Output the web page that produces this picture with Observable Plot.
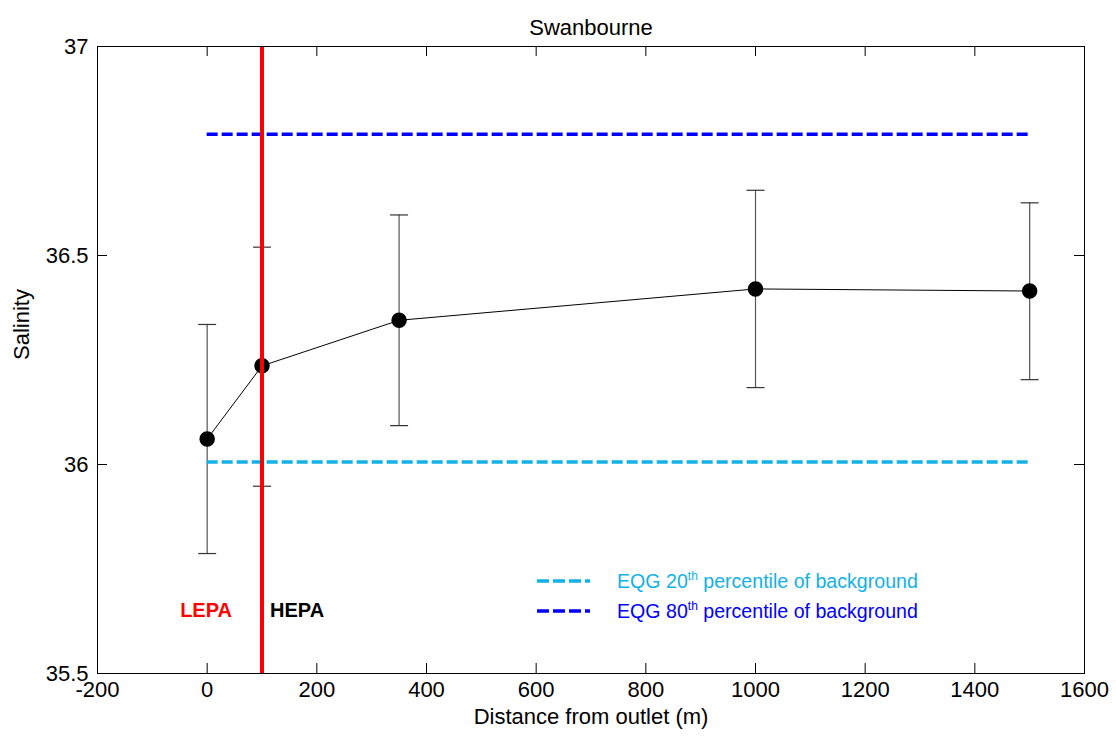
<!DOCTYPE html>
<html>
<head>
<meta charset="utf-8">
<script src="https://cdn.jsdelivr.net/npm/d3@7"></script>
<script src="https://cdn.jsdelivr.net/npm/@observablehq/plot@0.6"></script>
<style>
  html, body { margin: 0; padding: 0; background: white; }
  #wrap { position: relative; width: 1116px; height: 740px; font-family: "Liberation Sans", Arial, sans-serif; }
  #legend { position: absolute; left: 537px; top: 566px; font-size: 19.6px; line-height: 30px; }
  #legend .row { display: flex; align-items: center; height: 30px; }
  #legend svg { margin-right: 27px; }
  #legend sup { font-size: 12px; vertical-align: 8px; line-height: 0; }
</style>
</head>
<body>
<div id="wrap"></div>
<script>
// ---- data ----
const distance = [0, 100, 350, 1000, 1500];
const salinityMean = [36.061, 36.236, 36.345, 36.42, 36.415];
const salinityLow = [35.787, 35.948, 36.093, 36.184, 36.203];
const salinityHigh = [36.335, 36.52, 36.597, 36.656, 36.626];
const eqg20 = 36.006;
const eqg80 = 36.79;
const zoneBoundary = 100;
const xTicks = [-200, 0, 200, 400, 600, 800, 1000, 1200, 1400, 1600];
const yTicks = [35.5, 36, 36.5, 37];
const legendItems = [
  {label: "EQG 20", sup: "th", rest: " percentile of background", color: "#13B1E6"},
  {label: "EQG 80", sup: "th", rest: " percentile of background", color: "#0000FF"}
];

const rows = distance.map((d, i) => ({x: d, y: salinityMean[i], lo: salinityLow[i], hi: salinityHigh[i]}));

const W = 1116, H = 740, mL = 97, mR = 32, mT = 46, mB = 67;
const plotW = W - mL - mR, plotH = H - mT - mB;
const tickLen = 10;
const font = "Liberation Sans, Arial, sans-serif";

const capSymbol = {
  draw(ctx, size) {
    const r = Math.sqrt(size / Math.PI);
    ctx.moveTo(-r, 0);
    ctx.lineTo(r, 0);
  }
};

const chart = Plot.plot({
  width: W, height: H,
  marginLeft: mL, marginRight: mR, marginTop: mT, marginBottom: mB,
  x: {domain: [-200, 1600]},
  y: {domain: [35.5, 37]},
  style: {fontFamily: font, fontSize: "22px", color: "black", background: "white"},
  marks: [
    Plot.axisX(xTicks, {anchor: "bottom", tickSize: 0, tickPadding: 8, label: null, tickFormat: d => String(d), fontSize: 22}),
    Plot.axisY(yTicks, {anchor: "left", tickSize: 0, tickPadding: 9, label: null, tickFormat: d => String(d), fontSize: 22}),
    // inward ticks on all four sides
    Plot.ruleX(xTicks, {insetTop: plotH - tickLen, stroke: "black"}),
    Plot.ruleX(xTicks, {insetBottom: plotH - tickLen, stroke: "black"}),
    Plot.ruleY(yTicks, {insetRight: plotW - tickLen, stroke: "black"}),
    Plot.ruleY(yTicks, {insetLeft: plotW - tickLen, stroke: "black"}),
    // error bars
    Plot.ruleX(rows, {x: "x", y1: "lo", y2: "hi", stroke: "#555", strokeWidth: 1.2}),
    Plot.dot(rows, {x: "x", y: "hi", symbol: capSymbol, r: 9, stroke: "#333", strokeWidth: 1.2, fill: "none"}),
    Plot.dot(rows, {x: "x", y: "lo", symbol: capSymbol, r: 9, stroke: "#333", strokeWidth: 1.2, fill: "none"}),
    // mean line and markers
    Plot.line(rows, {x: "x", y: "y", stroke: "black", strokeWidth: 1}),
    Plot.dot(rows, {x: "x", y: "y", r: 7, fill: "black", stroke: "black"}),
    // EQG lines
    Plot.ruleY([eqg20], {x1: d3.min(distance), x2: d3.max(distance), stroke: legendItems[0].color, strokeWidth: 3.5, strokeDasharray: "11,4"}),
    Plot.ruleY([eqg80], {x1: d3.min(distance), x2: d3.max(distance), stroke: legendItems[1].color, strokeWidth: 3.5, strokeDasharray: "11,4"}),
    // LEPA/HEPA boundary
    Plot.ruleX([zoneBoundary], {stroke: "#FF0000", strokeWidth: 4}),
    Plot.text(["LEPA"], {x: zoneBoundary, y: 35.65, text: d => d, textAnchor: "end", dx: -30, fill: "#FF0000", fontWeight: "bold", fontSize: 20}),
    Plot.text(["HEPA"], {x: zoneBoundary, y: 35.65, text: d => d, textAnchor: "start", dx: 8, fill: "black", fontWeight: "bold", fontSize: 20}),
    Plot.frame({stroke: "black", strokeWidth: 1}),
    // title and axis labels
    Plot.text(["Swanbourne"], {frameAnchor: "top", text: d => d, dy: -27, fontSize: 22}),
    Plot.text(["Distance from outlet (m)"], {frameAnchor: "bottom", text: d => d, dy: 50, fontSize: 22}),
    Plot.text(["Salinity"], {frameAnchor: "left", text: d => d, dx: -76, rotate: -90, fontSize: 22})
  ]
});

const wrap = document.getElementById("wrap");
wrap.appendChild(chart);

const legend = document.createElement("div");
legend.id = "legend";
legendItems.forEach(item => {
  const row = document.createElement("div");
  row.className = "row";
  row.innerHTML =
    `<svg width="53" height="8"><line x1="0" y1="4" x2="53" y2="4" stroke="${item.color}" stroke-width="3.5" stroke-dasharray="12,4"/></svg>` +
    `<span style="color:${item.color}">${item.label}<sup>${item.sup}</sup>${item.rest}</span>`;
  legend.appendChild(row);
});
wrap.appendChild(legend);
</script>
</body>
</html>
